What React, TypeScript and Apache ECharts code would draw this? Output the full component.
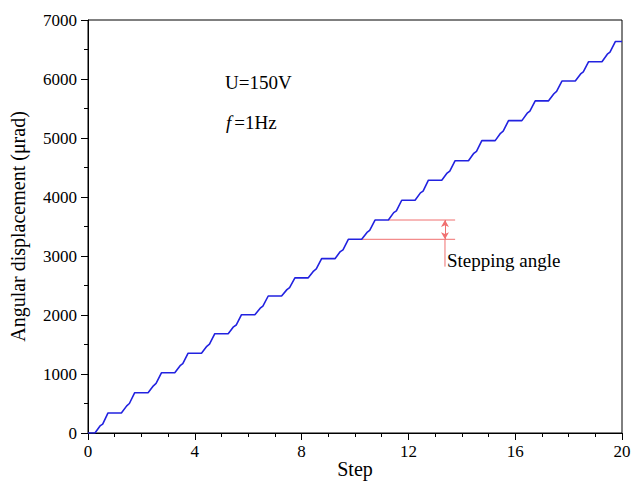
import React, { useEffect, useRef } from "react";
import * as echarts from "echarts";

const stepX = [
  0, 0.26, 0.45, 0.55, 0.75,
  1.25, 1.45, 1.55, 1.75,
  2.25, 2.45, 2.55, 2.75,
  3.25, 3.45, 3.55, 3.75,
  4.25, 4.45, 4.55, 4.75,
  5.25, 5.45, 5.55, 5.75,
  6.25, 6.45, 6.55, 6.75,
  7.25, 7.45, 7.55, 7.75,
  8.25, 8.45, 8.55, 8.75,
  9.25, 9.45, 9.55, 9.75,
  10.25, 10.45, 10.55, 10.75,
  11.25, 11.45, 11.55, 11.75,
  12.25, 12.45, 12.55, 12.75,
  13.25, 13.45, 13.55, 13.75,
  14.25, 14.45, 14.55, 14.75,
  15.25, 15.45, 15.55, 15.75,
  16.25, 16.45, 16.55, 16.75,
  17.25, 17.45, 17.55, 17.75,
  18.25, 18.45, 18.55, 18.75,
  19.25, 19.45, 19.55, 19.75,
  20,
];
const displacement = [
  0, 0, 120, 150, 340,
  340, 460, 500, 683,
  683, 800, 840, 1020,
  1020, 1140, 1175, 1352,
  1352, 1470, 1505, 1683,
  1683, 1800, 1830, 2005,
  2005, 2115, 2150, 2322,
  2322, 2430, 2465, 2630,
  2630, 2745, 2780, 2955,
  2955, 3075, 3105, 3283,
  3283, 3400, 3435, 3610,
  3610, 3735, 3765, 3945,
  3945, 4070, 4100, 4285,
  4285, 4405, 4440, 4615,
  4615, 4740, 4775, 4955,
  4955, 5080, 5115, 5295,
  5295, 5420, 5455, 5630,
  5630, 5750, 5790, 5965,
  5965, 6085, 6120, 6293,
  6293, 6420, 6455, 6635,
  6635,
];

// annotation ("Stepping angle") values
const lowerLevel = 3283;
const upperLevel = 3610;
const lowerLineX = [10.25, 13.75];
const upperLineX = [11.25, 13.75];
const arrowX = 13.37;
const arrowBottom = 2820;

const FONT = "'Liberation Serif', 'Times New Roman', serif";

export default function App() {
  const ref = useRef<HTMLDivElement>(null);
  useEffect(() => {
    if (!ref.current) return;
    const chart = echarts.init(ref.current, undefined, { renderer: "svg" });
    const trace = stepX.map((x, i) => [x, displacement[i]]);
    const red = "#f07070";
    chart.setOption({
      animation: false,
      backgroundColor: "#ffffff",
      grid: {
        left: 88,
        right: 10,
        top: 20,
        bottom: 51,
        containLabel: false,
        outerBoundsMode: "none",
        show: true,
        borderColor: "#000",
        borderWidth: 1,
        backgroundColor: "transparent",
      },
      xAxis: {
        type: "value",
        min: 0,
        max: 20,
        interval: 4,
        name: "Step",
        nameLocation: "middle",
        nameGap: 26,
        nameMoveOverlap: false,
        nameTextStyle: { fontFamily: FONT, fontSize: 20, color: "#000" },
        axisLine: { lineStyle: { color: "#000", width: 1 } },
        axisTick: { inside: false, length: 7, lineStyle: { color: "#000" } },
        minorTick: { show: true, splitNumber: 4, length: 4, lineStyle: { color: "#000" } },
        axisLabel: { fontFamily: FONT, fontSize: 17, color: "#000", margin: 10, formatter: (v: number) => String(v) },
        splitLine: { show: false },
      },
      yAxis: {
        type: "value",
        min: 0,
        max: 7000,
        interval: 1000,
        name: "Angular displacement (\u03bcrad)",
        nameLocation: "middle",
        nameGap: 60,
        nameMoveOverlap: false,
        nameTextStyle: { fontFamily: FONT, fontSize: 20, color: "#000" },
        axisLine: { lineStyle: { color: "#000", width: 1 } },
        axisTick: { inside: false, length: 7, lineStyle: { color: "#000" } },
        minorTick: { show: true, splitNumber: 2, length: 4, lineStyle: { color: "#000" } },
        axisLabel: { fontFamily: FONT, fontSize: 17, color: "#000", margin: 11, formatter: (v: number) => String(v) },
        splitLine: { show: false },
      },
      series: [
        {
          type: "line",
          data: trace,
          showSymbol: false,
          lineStyle: { color: "#2222e0", width: 1.6 },
          z: 5,
        },
        {
          type: "line",
          data: [[lowerLineX[0], lowerLevel], [lowerLineX[1], lowerLevel]],
          showSymbol: false,
          lineStyle: { color: red, width: 1 },
        },
        {
          type: "line",
          data: [[upperLineX[0], upperLevel], [upperLineX[1], upperLevel]],
          showSymbol: false,
          lineStyle: { color: red, width: 1 },
        },
        {
          type: "line",
          data: [[arrowX, arrowBottom], [arrowX, lowerLevel]],
          showSymbol: false,
          lineStyle: { color: red, width: 1 },
          markLine: {
            silent: true,
            symbol: ["arrow", "arrow"],
            symbolSize: [6, 7],
            label: { show: false },
            lineStyle: { color: red, width: 1, type: "solid" },
            data: [[{ coord: [arrowX, lowerLevel] }, { coord: [arrowX, upperLevel] }]],
          },
        },
      ],
      graphic: [
        {
          type: "text",
          left: 225,
          top: 73,
          style: { text: "U=150V", font: `19px ${FONT}`, fill: "#000" },
        },
        {
          type: "text",
          left: 226,
          top: 113,
          style: {
            text: "{i|f}=1Hz",
            font: `19px ${FONT}`,
            fill: "#000",
            rich: {
              i: { fontStyle: "italic", fontFamily: FONT, fontSize: 19, fill: "#000", padding: [0, 3, 0, 0] },
            },
          },
        },
        {
          type: "text",
          left: 447,
          top: 251,
          style: { text: "Stepping angle", font: `19px ${FONT}`, fill: "#000" },
        },
      ],
    });
    return () => chart.dispose();
  }, []);
  return (
    <div
      ref={ref}
      style={{ position: "fixed", left: 0, top: 0, width: 632, height: 484, background: "#fff" }}
    />
  );
}
